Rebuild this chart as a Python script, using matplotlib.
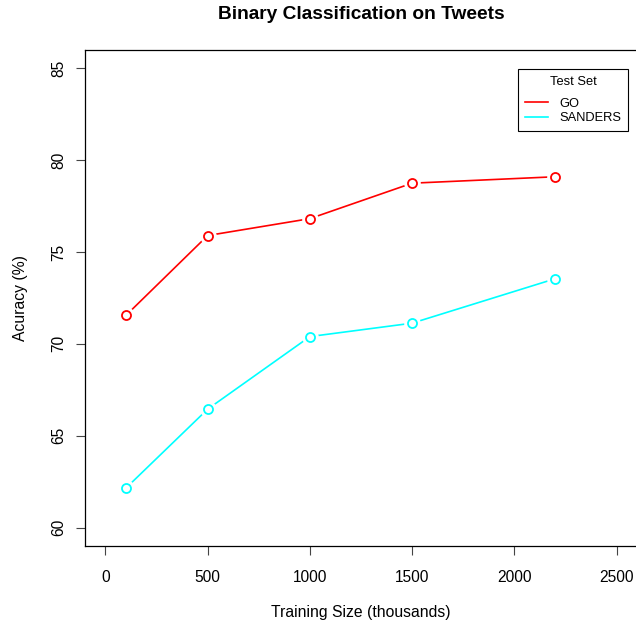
import matplotlib.pyplot as plt

plt.rcParams['font.family'] = ['Liberation Sans', 'DejaVu Sans']

# Training sizes (thousands) and accuracies (%)
train_size = [100, 500, 1000, 1500, 2200]
acc_go = [71.55, 75.9, 76.82, 78.75, 79.1]
acc_sanders = [62.15, 66.45, 70.4, 71.13, 73.55]

series = [("GO", acc_go, "#ff0000"), ("SANDERS", acc_sanders, "#00ffff")]

fig = plt.figure(figsize=(6.36, 6.26), dpi=100)
ax = fig.add_axes([85 / 636, 80 / 626, 552 / 636, 496 / 626])

for name, vals, col in series:
    ax.plot(train_size, vals, color=col, lw=1.2, label=name, zorder=2)
    # white halo so lines stop short of the points (R type="b")
    ax.plot(train_size, vals, 'o', ms=12, mfc='white', mec='none', zorder=3)
    ax.plot(train_size, vals, 'o', ms=6.5, mfc='white', mec=col, mew=1.3, zorder=4)

ax.set_xlim(-100, 2600)
ax.set_ylim(59, 86)
ax.set_xticks([0, 500, 1000, 1500, 2000, 2500])
ax.set_yticks([60, 65, 70, 75, 80, 85])
for lab in ax.get_yticklabels():
    lab.set_rotation(90)
    lab.set_va('center')
ax.tick_params(direction='out', length=6.5, width=0.8, labelsize=11.2, color='#444444')
ax.tick_params(axis='x', pad=11)
ax.tick_params(axis='y', pad=7)
for s in ax.spines.values():
    s.set_linewidth(0.9)

ax.set_title("Binary Classification on Tweets", fontsize=13.8, fontweight='bold', pad=22)
ax.set_xlabel("Training Size (thousands)", fontsize=11.3, labelpad=14)
ax.set_ylabel("Acuracy (%)", fontsize=11.3, labelpad=17)

leg = ax.legend(title="Test Set", loc='upper right', bbox_to_anchor=(0.984, 0.962),
                borderaxespad=0, fontsize=9.3, title_fontsize=9.3, fancybox=False,
                edgecolor='black', framealpha=1, handlelength=1.8, borderpad=0.55,
                labelspacing=0.18, handletextpad=0.85)
leg.get_frame().set_linewidth(0.8)
leg._legend_box.sep = 7  # extra room under the title

fig.savefig("out.png", dpi=100)
